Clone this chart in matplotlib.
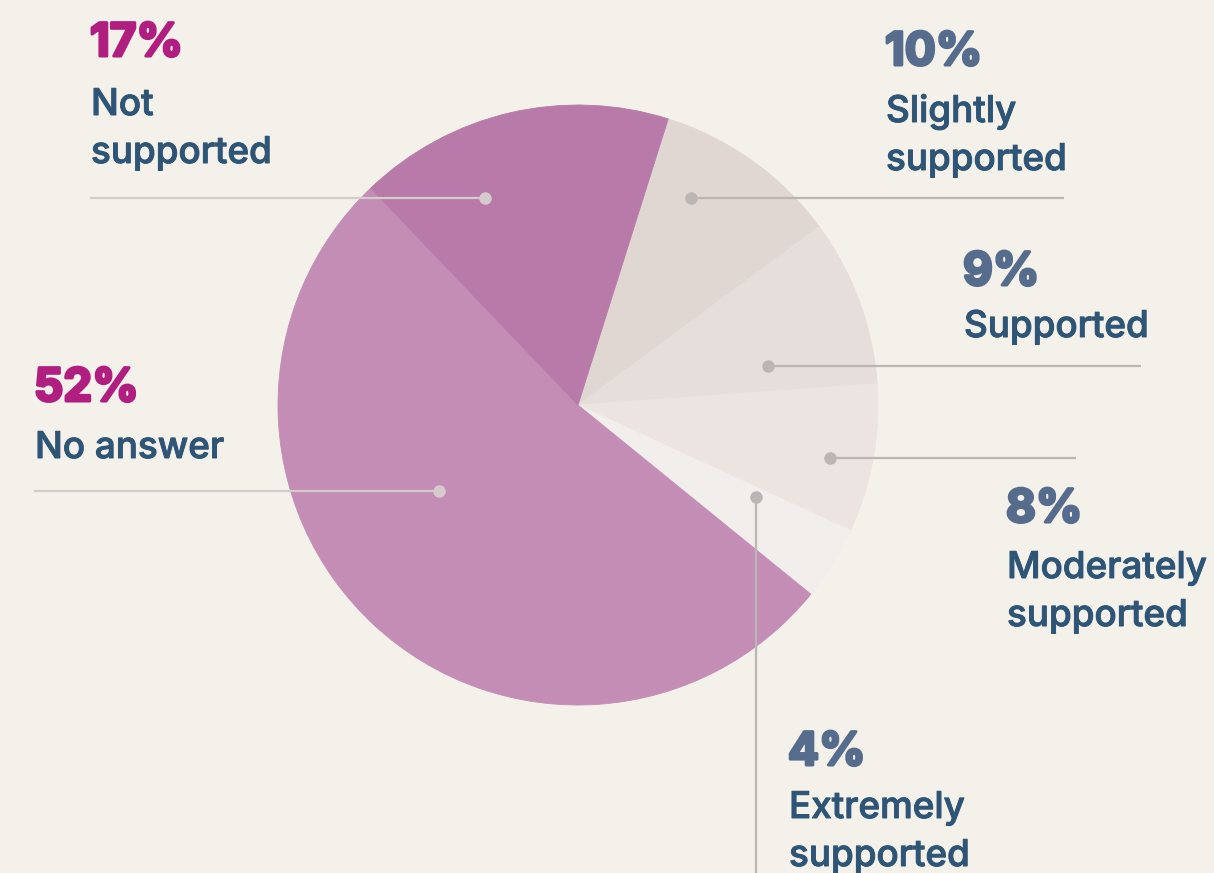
import matplotlib.pyplot as plt
import matplotlib.patheffects as pe

# === data ===
categories = ["Slightly\nsupported", "Supported", "Moderately\nsupported",
              "Extremely\nsupported", "No answer", "Not\nsupported"]
shares = [10, 9, 8, 4, 52, 17]
slice_colors = ["#e0d6d2", "#e6deda", "#ebe4e1", "#f2eeec", "#c38db5", "#b87aa8"]

# === layout (pixel coordinates, y from top) ===
W, H = 1214, 873
center = (578, 405)
radius = 300
# text anchor: (x, baseline of pct, baseline of first label line)
text_pos = [(885, 65, 122), (963, 285, 337), (1006, 522, 578),
            (788, 765, 818), (34, 401, 458), (90, 56, 115)]
# leader: dot position and line end
dots = [(691, 198), (768, 366), (830, 458), (756, 497), (439, 491), (485, 198)]
ends = [(1064, 198), (1141, 366), (1076, 458), (756, 873), (34, 491), (90, 198)]
lead_colors = ["#bbb6b4", "#bbb6b4", "#bbb6b4", "#bbb6b4", "#d5cbcc", "#d5cbcc"]
pct_colors = ["#566c8c"] * 4 + ["#b01f80", "#b01f80"]
label_color = "#2f5576"
bg = "#f4f1eb"
FONT = ['Inter', 'DejaVu Sans']

fig = plt.figure(figsize=(W / 100, H / 100), dpi=100, facecolor=bg)
ax = fig.add_axes([0, 0, 1, 1])
ax.set_facecolor(bg)

fy = lambda y: H - y

ax.pie(shares, colors=slice_colors, startangle=72.5, counterclock=False,
       center=(center[0], fy(center[1])), radius=radius, frame=True,
       wedgeprops=dict(linewidth=0.6))
for w, c in zip(ax.patches, slice_colors):
    w.set_edgecolor(c)
ax.set_xlim(0, W)
ax.set_ylim(0, H)
ax.set_aspect('equal')
ax.axis('off')

for i, (cat, v) in enumerate(zip(categories, shares)):
    (dx, dy), (ex, ey) = dots[i], ends[i]
    ax.plot([dx, ex], [fy(dy), fy(ey)], color=lead_colors[i], lw=1.6,
            solid_capstyle='butt', zorder=3)
    ax.plot(dx, fy(dy), 'o', ms=9, color=lead_colors[i], mec='none', zorder=4)

    tx, pb, lb = text_pos[i]
    ax.text(tx, fy(pb), f"{v}%", fontsize=33, fontweight='bold',
            family=FONT, color=pct_colors[i], ha='left', va='baseline',
            path_effects=[pe.withStroke(linewidth=2.2, foreground=pct_colors[i])])
    for k, line in enumerate(cat.split("\n")):
        ax.text(tx + 1, fy(lb + 48 * k), line, fontsize=26.5, fontweight='medium',
                family=FONT, color=label_color, ha='left', va='baseline',
                path_effects=[pe.withStroke(linewidth=0.7, foreground=label_color)])

fig.savefig("out.png", dpi=100, facecolor=bg)
